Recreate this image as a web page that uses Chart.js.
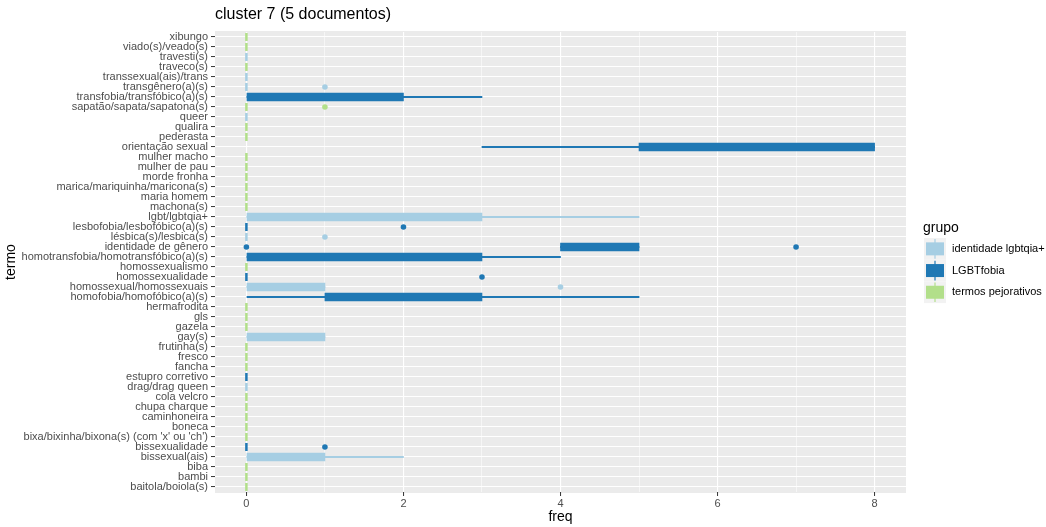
<!DOCTYPE html>
<html>
<head>
<meta charset="utf-8">
<script src="https://cdn.jsdelivr.net/npm/chart.js@4"></script>
<style>
  body { margin: 0; background: #fff; }
  #wrap { width: 1046px; height: 527px; }
</style>
</head>
<body>
<div id="wrap"><canvas id="chart" width="1046" height="527"></canvas></div>
<script>
const terms = [
  "xibungo", "viado(s)/veado(s)", "travesti(s)", "traveco(s)", "transsexual(ais)/trans",
  "transgênero(a)(s)", "transfobia/transfóbico(a)(s)", "sapatão/sapata/sapatona(s)", "queer", "qualira",
  "pederasta", "orientação sexual", "mulher macho", "mulher de pau", "morde fronha",
  "marica/mariquinha/maricona(s)", "maria homem", "machona(s)", "lgbt/lgbtqia+", "lesbofobia/lesbofóbico(a)(s)",
  "lésbica(s)/lesbica(s)", "identidade de gênero", "homotransfobia/homotransfóbico(a)(s)", "homossexualismo", "homossexualidade",
  "homossexual/homossexuais", "homofobia/homofóbico(a)(s)", "hermafrodita", "gls", "gazela",
  "gay(s)", "frutinha(s)", "fresco", "fancha", "estupro corretivo",
  "drag/drag queen", "cola velcro", "chupa charque", "caminhoneira", "boneca",
  "bixa/bixinha/bixona(s) (com 'x' ou 'ch')", "bissexualidade", "bissexual(ais)", "biba", "bambi",
  "baitola/boiola(s)"
];

const groupNames = ["identidade lgbtqia+", "LGBTfobia", "termos pejorativos"];
const groupColors = ["#a6cee3", "#1f78b4", "#b2df8a"];

// 0 = identidade, 1 = LGBTfobia, 2 = pejorativos
const termGroup = [
  2, 2, 0, 2, 0, 0, 1, 2, 0, 2,
  2, 1, 2, 2, 2, 2, 2, 2, 0, 1,
  0, 1, 1, 2, 1, 0, 1, 2, 2, 2,
  0, 2, 2, 2, 1, 0, 2, 2, 2, 2,
  2, 1, 0, 2, 2, 2
];

const boxLow = [
  0, 0, 0, 0, 0, 0, 0, 0, 0, 0,
  0, 5, 0, 0, 0, 0, 0, 0, 0, 0,
  0, 4, 0, 0, 0, 0, 1, 0, 0, 0,
  0, 0, 0, 0, 0, 0, 0, 0, 0, 0,
  0, 0, 0, 0, 0, 0
];
const boxHigh = [
  0, 0, 0, 0, 0, 0, 2, 0, 0, 0,
  0, 8, 0, 0, 0, 0, 0, 0, 3, 0,
  0, 5, 3, 0, 0, 1, 3, 0, 0, 0,
  1, 0, 0, 0, 0, 0, 0, 0, 0, 0,
  0, 0, 1, 0, 0, 0
];
const whiskerLow = [
  0, 0, 0, 0, 0, 0, 0, 0, 0, 0,
  0, 3, 0, 0, 0, 0, 0, 0, 0, 0,
  0, 4, 0, 0, 0, 0, 0, 0, 0, 0,
  0, 0, 0, 0, 0, 0, 0, 0, 0, 0,
  0, 0, 0, 0, 0, 0
];
const whiskerHigh = [
  0, 0, 0, 0, 0, 0, 3, 0, 0, 0,
  0, 8, 0, 0, 0, 0, 0, 0, 5, 0,
  0, 5, 4, 0, 0, 1, 5, 0, 0, 0,
  1, 0, 0, 0, 0, 0, 0, 0, 0, 0,
  0, 0, 2, 0, 0, 0
];

const outlierTerms = [
  "transgênero(a)(s)", "sapatão/sapata/sapatona(s)", "lesbofobia/lesbofóbico(a)(s)",
  "lésbica(s)/lesbica(s)", "identidade de gênero", "identidade de gênero",
  "homossexualidade", "homossexual/homossexuais", "bissexualidade"
];
const outlierValues = [1, 1, 2, 1, 0, 7, 3, 4, 1];

const xTicks = [0, 2, 4, 6, 8];

const colorOfTerm = (t) => groupColors[termGroup[terms.indexOf(t)]];
const termColors = termGroup.map((g) => groupColors[g]);

// boxes with no width (q1 == q3) are drawn as small vertical dashes
const flatBoxes = [];
terms.forEach((t, i) => {
  if (boxLow[i] === boxHigh[i]) flatBoxes.push({ x: boxLow[i], y: t });
});

const panelBg = {
  id: "panelBg",
  beforeDraw(chart) {
    const { ctx, chartArea: a } = chart;
    ctx.save();
    ctx.fillStyle = "#ebebeb";
    ctx.fillRect(a.left, a.top - 1, a.right - a.left, a.bottom - a.top + 2);
    ctx.restore();
  },
  afterDraw(chart) {
    const { ctx, chartArea: a } = chart;
    ctx.save();
    ctx.fillStyle = "#000";
    ctx.textBaseline = "middle";
    ctx.font = "16px 'Liberation Sans', Arial, sans-serif";
    ctx.fillText("cluster 7 (5 documentos)", a.left, 15);

    // legend
    const lx = 924, ly = 238, kh = 21.7, kw = 22;
    ctx.font = "14px 'Liberation Sans', Arial, sans-serif";
    ctx.fillText("grupo", 923, 228);
    ctx.font = "11px 'Liberation Sans', Arial, sans-serif";
    groupNames.forEach((name, i) => {
      const y = ly + i * kh;
      ctx.fillStyle = "#f2f2f2";
      ctx.fillRect(lx, y, kw, kh);
      ctx.strokeStyle = groupColors[i];
      ctx.lineWidth = 1.2;
      ctx.beginPath();
      ctx.moveTo(lx + kw / 2, y + 1);
      ctx.lineTo(lx + kw / 2, y + kh - 1);
      ctx.stroke();
      ctx.fillStyle = groupColors[i];
      ctx.fillRect(lx + 2, y + kh / 2 - 6.5, kw - 4, 13);
      ctx.fillStyle = "#000";
      ctx.fillText(name, 952, y + kh / 2);
    });
    ctx.restore();
  },
};

new Chart(document.getElementById("chart"), {
  type: "bar",
  data: {
    labels: terms,
    datasets: [
      {
        label: "whisker",
        data: terms.map((t, i) => [whiskerLow[i], whiskerHigh[i]]),
        backgroundColor: termColors,
        barThickness: 1.5,
        grouped: false,
        order: 3,
      },
      {
        label: "box",
        data: terms.map((t, i) => (boxLow[i] === boxHigh[i] ? null : [boxLow[i], boxHigh[i]])),
        backgroundColor: termColors,
        barThickness: 8,
        grouped: false,
        order: 2,
      },
      {
        type: "line",
        label: "flat",
        data: flatBoxes,
        showLine: false,
        pointStyle: "line",
        pointRotation: 90,
        pointRadius: 4,
        pointBorderWidth: 2.5,
        pointBorderColor: (c) => colorOfTerm(c.raw.y),
        order: 1,
      },
      {
        type: "line",
        label: "outliers",
        data: outlierTerms.map((t, i) => ({ x: outlierValues[i], y: t })),
        showLine: false,
        pointRadius: 2.8,
        pointBorderWidth: 0,
        pointBackgroundColor: (c) => colorOfTerm(c.raw.y),
        order: 0,
      },
    ],
  },
  options: {
    indexAxis: "y",
    responsive: false,
    animation: false,
    layout: { padding: { top: 32, right: 140, left: 0, bottom: 0 } },
    plugins: { legend: { display: false }, tooltip: { enabled: false } },
    scales: {
      x: {
        type: "linear",
        min: -0.4,
        max: 8.4,
        afterFit: (s) => { s.height = 35; },
        border: { display: false },
        grid: {
          color: "#fff",
          lineWidth: (c) => (c.tick && c.tick.value % 2 === 0 ? 1.1 : 0.55),
          tickColor: (c) => (c.tick && c.tick.value % 2 === 0 ? "#333" : "rgba(0,0,0,0)"),
          tickLength: 4,
          tickWidth: 1,
        },
        ticks: {
          stepSize: 1,
          includeBounds: false,
          padding: 1,
          color: "#4d4d4d",
          font: { family: "'Liberation Sans', Arial, sans-serif", size: 11 },
          callback: (v) => (xTicks.includes(v) ? String(v) : ""),
          maxRotation: 0,
        },
        title: {
          display: true,
          text: "freq",
          color: "#000",
          font: { family: "'Liberation Sans', Arial, sans-serif", size: 14 },
          padding: { top: 0, bottom: 1 },
        },
      },
      y: {
        type: "category",
        afterFit: (s) => { s.width = 215; },
        border: { display: false },
        grid: {
          offset: false,
          color: "#fff",
          lineWidth: 1.1,
          tickColor: "#333",
          tickLength: 4,
          tickWidth: 1,
        },
        ticks: {
          autoSkip: false,
          padding: 3,
          color: "#4d4d4d",
          font: { family: "'Liberation Sans', Arial, sans-serif", size: 11 },
        },
        title: {
          display: true,
          text: "termo",
          color: "#000",
          font: { family: "'Liberation Sans', Arial, sans-serif", size: 14 },
          padding: 3,
        },
      },
    },
  },
  plugins: [panelBg],
});
</script>
</body>
</html>
